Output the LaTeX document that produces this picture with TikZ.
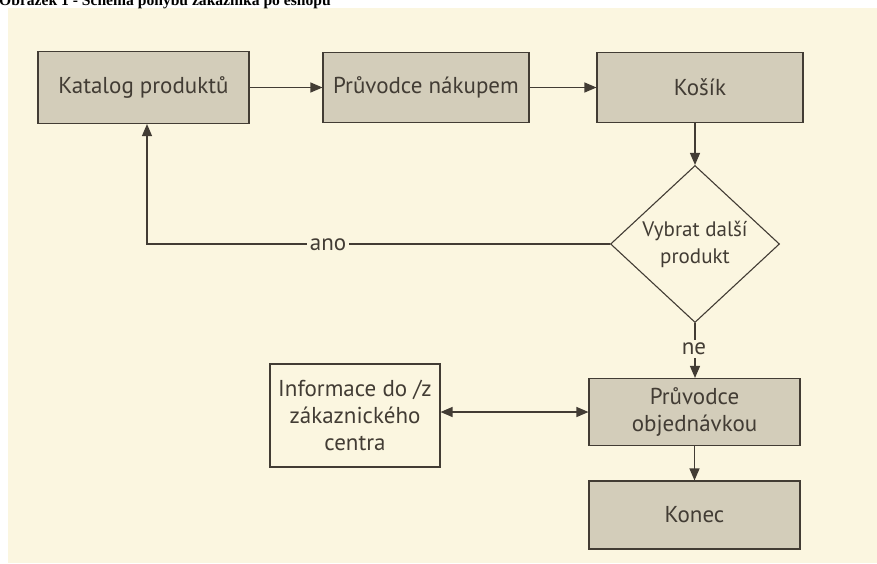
\documentclass[tikz,border=0pt]{standalone}
\usepackage{fontspec}
\setmainfont{PT Sans}
\newfontfamily\titlefont{Liberation Serif}
\usetikzlibrary{arrows.meta,shapes.geometric}
\definecolor{paper}{RGB}{251,246,224}
\definecolor{boxfill}{RGB}{211,205,186}
\definecolor{ink}{RGB}{66,60,52}
\begin{document}
\begin{tikzpicture}[x=1pt,y=-1pt,
  every node/.style={font=\fontsize{23}{27}\selectfont, text=ink},
  graybox/.style={draw=ink, line width=1.1pt, fill=boxfill, minimum width=206pt, minimum height=70pt, inner sep=0pt},
  whitebox/.style={draw=ink, line width=1.1pt, fill=paper, minimum width=170pt, minimum height=103pt, inner sep=0pt, align=center},
  decision/.style={diamond, draw=ink, line width=1.1pt, fill=paper, minimum width=169pt, minimum height=157pt, inner sep=0pt, align=center, font=\fontsize{21}{27}\selectfont},
  conn/.style={draw=ink, line width=1.2pt, -{Triangle[length=12pt,width=10pt]}},
  lbl/.style={fill=paper, inner sep=3pt}
]
\useasboundingbox (0,0) rectangle (877,563);
\fill[white] (0,0) rectangle (877,563);
\fill[paper] (8,8) rectangle (877,563);
\begin{scope}
\clip (0,0) rectangle (877,563);
\node[anchor=base west, inner sep=0pt, text=black, font=\titlefont\bfseries\fontsize{15.6}{18}\selectfont] (title) at (-1,5) {Obrázek 1 - Schéma pohybu zákazníka po eshopu};
\end{scope}

\node[graybox, minimum width=211pt, minimum height=72pt] (katalog) at (143.5,87.5) {Katalog produktů};
\node[graybox] (nakup) at (426,87.5) {Průvodce nákupem};
\node[graybox] (kosik) at (700,87.5) {Košík};
\node[decision] (vybrat) at (695,244) {Vybrat další\\produkt};
\node[graybox, minimum width=211pt, minimum height=67pt, align=center] (objed) at (694.5,412) {Průvodce\\objednávkou};
\node[graybox, minimum width=211pt, minimum height=68pt] (konec) at (694.5,515) {Konec};
\node[whitebox] (info) at (355,415.5) {Informace do /z\\zákaznického\\centra};

\draw[conn] (katalog.east) -- (nakup.west);
\draw[conn] (nakup.east) -- (kosik.west);
\draw[conn] (kosik.south -| vybrat.north) -- (vybrat.north);
\draw[conn] (vybrat.west) -- (147,244) coordinate (corner) -- (corner |- katalog.south);
\node[lbl] (ano) at (328,245) {ano};
\draw[conn] (vybrat.south) -- (vybrat.south |- objed.north);
\node[lbl] (ne) at (694,349) {ne};
\draw[conn, {Triangle[length=12pt,width=10pt]}-{Triangle[length=12pt,width=10pt]}] (info.east |- objed.west) -- (objed.west);
\draw[conn] (objed.south) -- (konec.north);
\end{tikzpicture}
\end{document}
